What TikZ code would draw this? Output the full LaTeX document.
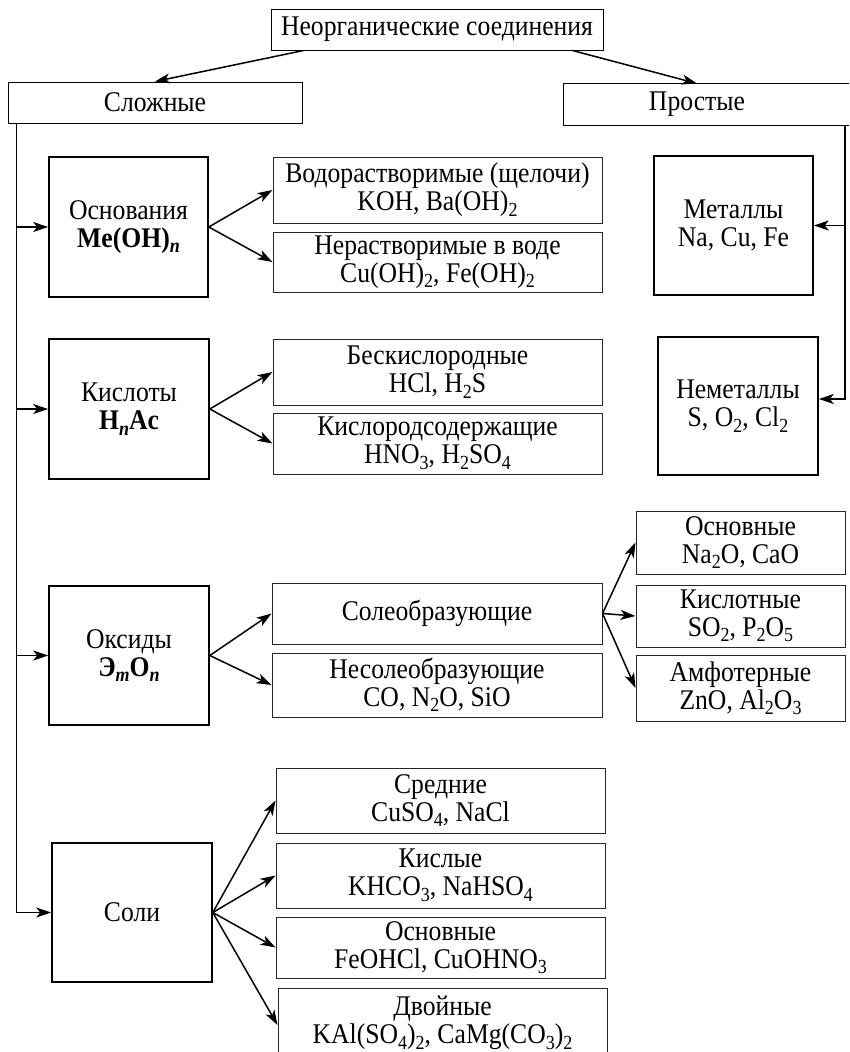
\documentclass[tikz,border=0pt]{standalone}
\usepackage{fontspec}
\setmainfont[FakeStretch=0.9]{Liberation Serif}
\usetikzlibrary{arrows.meta,calc}
\newcommand\chs[1]{\raisebox{-5.5pt}{\fontsize{20}{20}\selectfont #1}}
\newcommand\bsub[1]{\chs{\bfseries\itshape #1}}
\begin{document}
\begin{tikzpicture}[x=1pt,y=-1pt,
  box/.style={draw, line width=1pt, align=center, inner sep=0pt, font=\fontsize{28.5}{28}\selectfont},
  mainbox/.style={box, line width=1.6pt},
  subbox/.style={box, draw=black!85},
  arr/.style={-{Stealth[length=15pt,width=10pt,inset=4pt]}, line width=1.5pt},
]
\useasboundingbox (0,0) rectangle (849,1052);
\fill[white] (0,0) rectangle (849,1052);
\clip (0,0) rectangle (849,1052);

% top level
\node[box, minimum width=332pt, minimum height=41pt] (top) at (437,29.5) {Неорганические соединения};
\node[box, minimum width=294pt, minimum height=41pt] (slozh) at (155,102.5) {Сложные};
\node[box, draw=none, minimum width=266pt, minimum height=41pt] (prost) at (697,104.5) {Простые};
\draw[line width=1pt] ([xshift=40pt]prost.north east) -- (prost.north west) -- (prost.south west) -- ([xshift=40pt]prost.south east);

\draw[arr] ([xshift=33pt]top.south west) -- (slozh.north);
\draw[arr] ([xshift=-31pt]top.south east) -- (prost.north);

% main classes
\node[mainbox, minimum width=159pt, minimum height=140pt] (osn) at (128.5,227) {Основания\\\textbf{Me(OH)}\bsub{n}};
\node[mainbox, minimum width=160pt, minimum height=140pt] (kis) at (129,409) {Кислоты\\\textbf{H}\bsub{n}\textbf{Ac}};
\node[mainbox, minimum width=160pt, minimum height=139pt] (oks) at (129,655.5) {Оксиды\\\textbf{Э}\bsub{m}\textbf{O}\bsub{n}};
\node[mainbox, minimum width=160pt, minimum height=139pt] (soli) at (132,912.5) {Соли};

\node[mainbox, minimum width=159pt, minimum height=139pt] (metal) at (733.5,225.5) {Металлы\\Na, Cu, Fe};
\node[mainbox, minimum width=160pt, minimum height=138pt] (nemet) at (738,406) {Неметаллы\\S, O\chs{2}, Cl\chs{2}};

% left trunk
\coordinate (ltop) at ([xshift=9pt]slozh.south west);
\draw[arr] (ltop) |- (soli.west);
\draw[arr] (ltop |- osn.west) -- (osn.west);
\draw[arr] (ltop |- kis.west) -- (kis.west);
\draw[arr] (ltop |- oks.west) -- (oks.west);

% right trunk
\coordinate (rtop) at (845,125);
\draw[arr] (rtop) |- ([yshift=7pt]nemet.east);
\draw[arr] (rtop |- metal.east) -- (metal.east);

% bases
\node[subbox, minimum width=329pt, minimum height=66pt] (vod) at (437.5,190) {Водорастворимые (щелочи)\\KOH, Ba(OH)\chs{2}};
\node[subbox, minimum width=329pt, minimum height=60pt] (nerast) at (437.5,262) {Нерастворимые в воде\\Cu(OH)\chs{2}, Fe(OH)\chs{2}};
\draw[arr] (osn.east) -- (vod.west);
\draw[arr] (osn.east) -- (nerast.west);

% acids
\node[subbox, minimum width=329pt, minimum height=66pt] (beskis) at (437.5,372) {Бескислородные\\HCl, H\chs{2}S};
\node[subbox, minimum width=329pt, minimum height=61pt] (kisl) at (437.5,443.5) {Кислородсодержащие\\HNO\chs{3}, H\chs{2}SO\chs{4}};
\draw[arr] (kis.east) -- (beskis.west);
\draw[arr] (kis.east) -- (kisl.west);

% oxides
\node[subbox, minimum width=330pt, minimum height=61pt] (soleobr) at (437,613.5) {Солеобразующие};
\node[subbox, minimum width=330pt, minimum height=64pt] (nesol) at (437,685) {Несолеобразующие\\CO, N\chs{2}O, SiO};
\draw[arr] (oks.east) -- (soleobr.west);
\draw[arr] (oks.east) -- (nesol.west);

\node[subbox, minimum width=209pt, minimum height=63pt] (osnox) at (740.5,542.5) {Основные\\Na\chs{2}O, CaO};
\node[subbox, minimum width=209pt, minimum height=62pt] (kisox) at (740.5,616) {Кислотные\\SO\chs{2}, P\chs{2}O\chs{5}};
\node[subbox, minimum width=209pt, minimum height=66pt] (amf) at (740.5,688) {Амфотерные\\ZnO, Al\chs{2}O\chs{3}};
\draw[arr] (soleobr.east) -- (osnox.west);
\draw[arr] (soleobr.east) -- (kisox.west);
\draw[arr] (soleobr.east) -- (amf.west);

% salts
\node[subbox, minimum width=329pt, minimum height=65pt] (sred) at (440.5,800.5) {Средние\\CuSO\chs{4}, NaCl};
\node[subbox, minimum width=329pt, minimum height=65pt] (kisly) at (440.5,875.5) {Кислые\\KHCO\chs{3}, NaHSO\chs{4}};
\node[subbox, minimum width=329pt, minimum height=61pt] (osnsol) at (440.5,947.5) {Основные\\FeOHCl, CuOHNO\chs{3}};
\node[subbox, minimum width=329pt, minimum height=70pt] (dvoin) at (442.5,1023) {Двойные\\KAl(SO\chs{4})\chs{2}, CaMg(CO\chs{3})\chs{2}};
\draw[arr] (soli.east) -- (sred.west);
\draw[arr] (soli.east) -- (kisly.west);
\draw[arr] (soli.east) -- (osnsol.west);
\draw[arr] (soli.east) -- ([yshift=-2pt]dvoin.west);
\end{tikzpicture}
\end{document}
